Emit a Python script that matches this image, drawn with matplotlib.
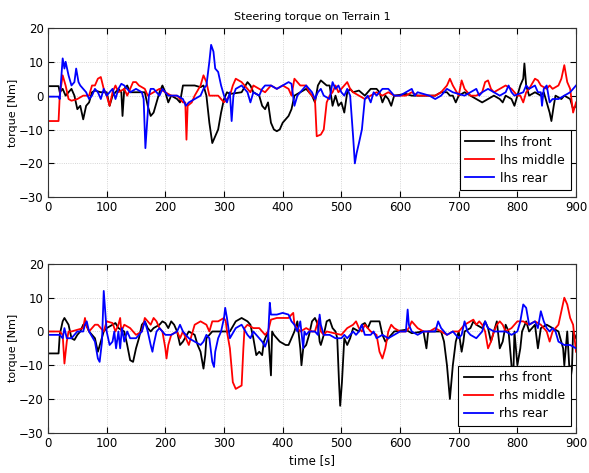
import numpy as np
import matplotlib
matplotlib.use("Agg")
import matplotlib.pyplot as plt

# lhs wheels, (time [s], torque [Nm])
lhs_front = [(0, 2.8), (18, 2.8), (20, 1), (25, 2), (30, 0), (40, 2), (45, 0), (50, -4), (55, -3), (60, -7),
             (65, -3), (70, -2), (75, 1), (80, 1.5), (90, 1), (100, 1), (105, -3), (110, 0), (120, 2), (125, 1),
             (127, -6), (130, 2), (135, 3), (140, 1), (160, 1), (165, 1), (170, -3), (175, -6), (180, -5),
             (185, -2), (190, 1), (195, 3), (200, 1), (205, -2), (210, 0), (220, -1), (225, -2), (230, 3),
             (250, 3), (260, 2.5), (265, 3), (270, 0), (275, -8), (280, -14), (285, -12), (290, -10), (295, -5),
             (300, -1), (305, 1), (310, 0.5), (330, 1), (340, 4), (345, 3), (350, 1), (360, 0), (365, -3),
             (370, -4), (375, -2), (380, -8), (385, -10), (390, -10.5), (395, -10), (400, -8), (405, -7),
             (410, -6), (415, -4), (420, 0), (430, 1), (440, 2), (450, 0), (455, -2), (460, 3), (465, 4.5),
             (475, 3), (480, 3), (485, -3), (490, 0), (495, -3), (500, -2), (505, -5), (510, 1), (515, 2),
             (520, 1), (530, 1.5), (540, 0), (550, 2), (560, 2), (565, 1), (570, -2), (575, 0), (580, -1),
             (585, -3), (590, 0), (610, 0.5), (620, 0), (660, 0), (670, 1), (680, 1), (685, 0), (690, 0),
             (695, -2), (700, 0), (710, 1), (720, 0), (730, -1), (740, -2), (750, -1), (760, 0), (770, -1),
             (775, -2), (780, 0), (790, -1), (795, -3), (800, 0), (805, 3), (810, 5), (812, 9.5), (815, 3),
             (820, 0), (830, 1), (840, 0), (845, 1), (850, -2), (855, -5), (858, -7.5), (862, -3), (865, 0),
             (875, -1), (880, 0), (890, -1), (895, -4), (900, -3)]
lhs_middle = [(0, -7.5), (18, -7.5), (20, 0), (25, 6), (30, 3), (35, -1), (40, -1.5), (50, -1), (60, 0),
              (70, 0), (75, 3), (80, 3), (85, 5), (90, 5.5), (95, 2), (100, 0), (105, -3), (110, 1), (115, 3),
              (120, 1), (130, 2), (135, 0), (140, 2), (145, 4), (150, 4), (155, 3), (165, 2), (170, 0),
              (180, 1), (190, 2), (200, 1), (210, 0), (220, 0), (230, -2), (234, -2), (236, -13), (238, -3),
              (245, -2), (250, 0), (260, 3), (265, 6), (270, 4), (275, 0), (290, 0), (295, -1), (300, -2),
              (305, -1), (310, 0), (315, 3), (320, 5), (330, 4), (340, 2), (345, 1), (350, 3), (360, 2),
              (370, 1), (380, 3), (390, 2), (400, 3), (410, 2), (415, 0), (420, 5), (425, 4), (430, 3),
              (440, 3), (445, 1), (450, 0), (455, -1), (458, -12), (465, -11.5), (470, -10), (475, -2),
              (480, 0), (485, 1), (490, 3), (495, 1), (500, 2), (510, 4), (515, 2), (520, 1), (530, 0),
              (540, -1), (550, 0), (560, 1), (570, 0), (580, 1), (590, 0), (610, 0), (620, 1), (630, 0),
              (660, 0), (670, 1), (680, 3), (685, 5), (690, 3), (700, 0), (705, 4.5), (710, 2), (720, 0),
              (730, 0), (740, 1), (745, 4), (750, 4.5), (755, 2), (760, 1), (770, 2), (780, 3), (790, 2),
              (800, 0), (805, 0), (810, -2), (815, 1), (820, 2), (830, 5), (835, 4.5), (840, 3), (850, 2),
              (855, 3), (860, 2), (870, 3), (875, 5), (880, 9), (885, 4), (890, 2), (895, -5), (900, -2)]
lhs_rear = [(0, -0.3), (18, -0.3), (20, -1), (25, 11), (28, 8), (30, 10), (35, 6), (40, 3), (45, 4), (48, 8),
            (52, 4), (55, 3), (60, 2), (65, 1), (70, -1), (75, 0), (80, 2), (85, 1), (90, -1), (95, 2),
            (100, 0), (105, 1), (110, 2), (115, -1), (120, 2), (125, 3.5), (130, 3), (135, 2), (140, 1),
            (150, 2), (160, 1), (163, -1), (166, -15.5), (170, -5), (172, 0), (175, 2), (180, 2), (185, 1),
            (190, 0), (195, 2), (200, 1), (205, 0), (220, 0), (230, -1), (235, -3), (240, -2), (250, -1),
            (260, 0), (265, 2), (270, 3), (275, 10), (278, 15), (282, 13), (285, 8), (290, 7), (295, 3),
            (300, 0), (305, -2), (310, 1), (313, -7.5), (316, 0), (320, 2), (330, 3), (340, 1), (345, -2),
            (350, 1), (360, 0), (365, 2), (370, 3), (380, 3), (390, 2), (400, 3), (410, 4), (415, 3.5),
            (420, -3), (425, 0), (430, 1), (440, 3), (450, 1), (455, -1), (460, 1), (465, 2), (470, 0),
            (480, -1), (485, 4), (490, 2), (495, 3), (500, 1), (505, 0), (510, 2), (515, 0), (520, -12),
            (523, -20), (526, -17), (530, -14), (535, -10), (540, -1), (545, 0), (550, -2), (555, 1),
            (560, 0), (570, 2), (580, 2), (590, 0), (600, 0), (610, 1), (620, 2), (625, 0), (630, 1),
            (650, 0), (660, -1), (670, 0), (680, 2), (690, 1), (710, 0), (720, 1), (730, 2), (735, 0),
            (740, 1), (750, 2), (760, 1), (770, 0), (780, 1), (785, 3), (790, 1), (795, 0), (810, 1),
            (815, 3), (820, 2), (830, 3), (835, 1), (840, 1), (842, -3), (845, 2), (850, 3), (855, -2),
            (860, -1), (870, -1), (880, 0), (890, 1), (895, 2), (900, 3)]

# rhs wheels
rhs_front = [(0, -6.5), (18, -6.5), (20, -1), (25, 3), (28, 4), (35, 2), (40, -2), (45, -2.5), (50, -1),
             (55, 0), (60, 2), (65, 2), (70, 0), (80, -2), (85, -6), (90, -3), (95, 0), (100, 1), (110, 2),
             (115, 2.5), (120, 1), (130, 0), (135, -4), (140, -8.5), (145, -9), (150, -5), (155, -2),
             (160, 2), (165, 3), (170, 1), (175, 0), (180, 1), (190, 2), (195, 3), (200, 2.5), (205, 1),
             (210, 3), (215, 2), (220, 0), (225, -4), (230, -3), (240, 0), (250, -1), (255, -4), (260, -6),
             (265, -11), (268, -7), (270, -2), (280, 0), (310, 0), (320, 3), (330, 4), (340, 3), (345, 2),
             (350, -2), (355, -7), (360, -6), (365, -7), (368, -3), (375, 0), (380, -13), (382, 0),
             (385, -1), (390, -2), (395, -3), (405, -4), (410, -4), (415, -2), (420, 0), (425, 3),
             (430, -5), (432, -10), (435, -5), (440, -4), (445, -1), (450, 3), (455, 4), (460, 2),
             (463, -3), (465, -4), (470, -1), (475, 3), (480, 3.5), (485, 1), (490, 0), (493, -2),
             (496, -15), (498, -22), (501, -15), (505, -2), (510, -4), (515, -2), (520, 1), (530, 0),
             (535, 2), (540, 2.5), (545, 1), (550, 3), (565, 3), (570, -1), (575, -3), (580, -2), (590, 0),
             (610, 0.5), (620, -0.5), (640, 0), (645, -5), (648, 0), (670, 0), (675, -3), (680, -10),
             (685, -20), (690, -10), (695, -3), (700, 0), (705, -6), (708, -3), (710, 0), (720, 1),
             (725, 3), (730, 2), (740, 1), (745, 3), (750, 1), (755, -3), (760, 0), (765, 3), (770, -5),
             (775, -3), (780, 2), (785, 0), (790, -10), (793, -14), (795, 0), (800, -10), (805, -5),
             (808, 0), (815, 3), (820, 0), (830, 2), (835, -5), (840, 1), (850, 2), (860, 1), (870, 0),
             (878, -5), (880, -10), (885, 0), (890, -15), (893, -11), (895, 0), (900, -2)]
rhs_middle = [(0, 0), (20, 0), (25, -1), (28, -9.5), (32, -3), (35, 0), (40, 0), (50, 0.5), (60, 1), (63, 4),
              (65, 2), (70, 0), (80, 2), (85, 2), (90, 1), (95, 0), (100, 3), (110, 2.5), (115, 0), (120, 2),
              (123, 4), (125, 0), (130, 2), (140, 1), (150, -1), (160, 0), (165, 4), (170, 3), (175, 2),
              (180, 4), (185, 3), (190, 1), (195, 0), (200, -5), (202, -8), (205, -4), (210, -1), (220, 0),
              (225, -2), (230, 0), (240, -4), (245, -1), (250, 2), (260, 3), (270, 2), (275, 0), (280, 3),
              (290, 3), (300, 4), (303, 3), (305, 0), (310, -5), (315, -15), (320, -17), (325, -16.5),
              (330, -16), (333, -5), (335, 1), (340, 2), (350, 1), (360, 1), (365, 0), (370, -1), (375, 0),
              (380, 3.5), (390, 4), (410, 4), (415, 5), (418, 5.5), (420, 2), (425, 1), (430, 0), (440, 1),
              (450, 0), (455, 0), (460, 3), (463, 4), (465, 0), (470, -1), (475, 0), (500, -1), (505, 0),
              (510, 1), (520, 2), (525, 3), (530, 1), (535, 0), (540, 2), (550, 0), (560, -1), (565, -6),
              (570, -8), (575, -5), (580, 0), (585, 2), (590, 1), (600, 0), (610, 0), (615, 1), (620, 3),
              (625, 2), (630, 1), (640, 0), (650, 0), (660, 1), (670, 0), (680, -1), (690, 0), (700, 0),
              (710, 2), (720, 3), (725, 3.5), (730, 2), (735, 3), (740, 2), (745, 0), (750, -5), (755, -3),
              (760, 0), (765, 2), (770, 3), (775, 2), (780, 0), (790, 1), (800, 3), (810, 3), (820, 2),
              (830, 3), (840, 2), (850, 0), (855, -3), (860, 0), (870, 2), (875, 6), (880, 10), (885, 8),
              (890, 4), (895, 2), (900, -6)]
rhs_rear = [(0, -1), (20, -1), (25, -2), (28, 1), (32, -2), (40, -2), (45, -1), (50, 0), (60, 0), (63, 2),
            (66, 3), (70, 0), (80, -3), (85, -8), (88, -9), (92, -3), (95, 12), (98, 5), (100, 0), (105, -4),
            (110, -3), (113, 0), (116, -5), (120, 0), (123, -5), (126, 1), (130, -3), (135, 0), (140, -2),
            (150, -2), (160, 0), (165, 3), (170, 0), (175, -4), (178, -6), (180, -4), (185, 0), (190, 1),
            (195, 0), (200, -1), (210, -1), (220, 0), (225, 2), (230, 0), (240, -2), (250, -3), (260, -4),
            (265, -3), (270, -1), (275, -2), (280, -9), (283, -10.5), (285, -6), (290, -2), (295, 0),
            (300, 4), (302, 7), (305, 4), (310, -2), (320, 1), (330, 2), (340, -1), (345, -2), (350, 0),
            (355, -1), (360, -2), (365, -3), (370, -4.5), (375, -2), (378, 8.5), (380, 5), (390, 5),
            (400, 5.5), (410, 5), (415, 3), (420, 2), (425, 0), (430, 3), (435, -5), (437, 0), (440, -1),
            (445, 0), (455, 0), (460, -1), (463, 5), (465, 2), (470, -1), (480, -1), (490, -2), (500, -2),
            (505, -1), (510, -2), (520, 0), (525, -1), (530, 0), (535, 2), (540, -1), (550, -1), (555, 0),
            (560, -2), (570, -1), (580, -2), (590, -1), (600, 0), (610, 0), (613, 6.5), (615, 2), (620, 0),
            (630, -1), (640, 0), (660, 0), (665, 3), (670, 1), (680, -1), (690, 0), (700, -2), (705, -1),
            (710, 3), (715, 0), (720, -1), (730, -2), (740, 0), (745, 3), (750, 1), (760, 0), (780, 0),
            (790, -1), (800, 0), (805, 3), (810, 8), (815, 7), (820, 2), (830, 3), (835, 1), (840, 6),
            (845, 3), (850, 1), (855, 0), (860, 1), (865, 0), (870, -3), (880, -4), (890, -4), (900, -5)]

top_labels = ["lhs front", "lhs middle", "lhs rear"]
bottom_labels = ["rhs front", "rhs middle", "rhs rear"]
colors = ["black", "red", "blue"]

fig = plt.figure(figsize=(5.89, 4.73), dpi=100)
ax1 = fig.add_axes([0.0815, 0.583, 0.8965, 0.358])
ax2 = fig.add_axes([0.0815, 0.085, 0.8965, 0.357])


def draw(ax, series, labels):
    for s, lab, c in zip(series, labels, colors):
        a = np.array(s, dtype=float)
        ax.plot(a[:, 0], a[:, 1], color=c, lw=1.3, label=lab)
    ax.set_xlim(0, 900)
    ax.set_ylim(-30, 20)
    ax.set_xticks(np.arange(0, 901, 100))
    ax.set_yticks(np.arange(-30, 21, 10))
    ax.grid(True, linestyle=":", color="#c8c8c8", lw=0.6)
    ax.tick_params(direction="in", top=True, right=True, labelsize=8.5, length=4, pad=3)
    ax.set_ylabel("torque [Nm]", fontsize=8, labelpad=1)
    for sp in ax.spines.values():
        sp.set_color("#333333")
    leg = ax.legend(loc="lower right", bbox_to_anchor=(0.99, 0.04), borderaxespad=0,
                    fancybox=False, edgecolor="black", framealpha=1, fontsize=9,
                    handlelength=2.3, labelspacing=0.4, borderpad=0.45, handletextpad=0.5)
    leg.get_frame().set_linewidth(0.8)


draw(ax1, [lhs_front, lhs_middle, lhs_rear], top_labels)
draw(ax2, [rhs_front, rhs_middle, rhs_rear], bottom_labels)
ax1.set_title("Steering torque on Terrain 1", fontsize=8, pad=6)
ax2.set_xlabel("time [s]", fontsize=8.5, labelpad=3)

fig.savefig("out.png", dpi=100)
